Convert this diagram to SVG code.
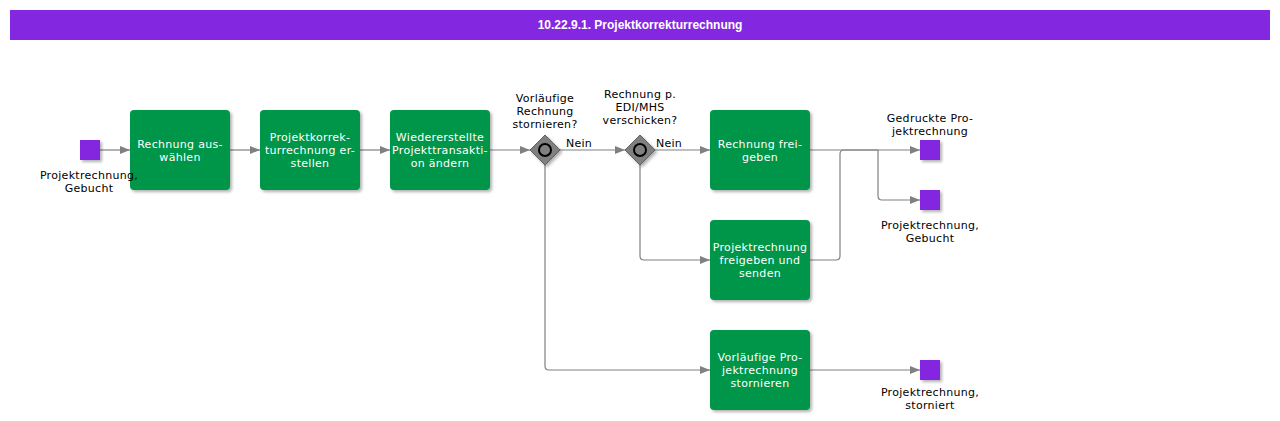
<svg xmlns="http://www.w3.org/2000/svg" width="1280" height="421" viewBox="0 0 1280 421">
<style>
.t{font-family:"DejaVu Sans",Verdana,sans-serif;font-size:11px;letter-spacing:0.3px;text-anchor:middle;fill:#000}
.w{fill:#fff}
.task{fill:#00964a}
.ev{fill:#8427e0}
.c{fill:none;stroke:#808080;stroke-width:1.2}
</style>
<defs>
<filter id="sh" x="-20%" y="-20%" width="140%" height="140%">
<feDropShadow dx="2" dy="2" stdDeviation="1.5" flood-color="#000" flood-opacity="0.3"/>
</filter>
<marker id="a" viewBox="0 0 10 10" refX="10" refY="5" markerWidth="10" markerHeight="10" markerUnits="userSpaceOnUse" orient="auto">
<path d="M0,1 L10,5 L0,9 Z" fill="#808080"/>
</marker>
</defs>
<rect width="1280" height="421" fill="#fff"/>
<g id="title">
<rect x="10" y="10" width="1260" height="30" fill="#8427e0"/>
<text x="640" y="29" font-family="'Liberation Sans',Arial,sans-serif" font-size="12" font-weight="bold" fill="#fff" text-anchor="middle">10.22.9.1. Projektkorrekturrechnung</text>
</g>
<g id="connectors">
<path class="c" d="M100,150 H130" marker-end="url(#a)"/>
<path class="c" d="M230,150 H260" marker-end="url(#a)"/>
<path class="c" d="M360,150 H390" marker-end="url(#a)"/>
<path class="c" d="M490,150 H530" marker-end="url(#a)"/>
<path class="c" d="M560,150 H625" marker-end="url(#a)"/>
<path class="c" d="M655,150 H710" marker-end="url(#a)"/>
<path class="c" d="M545,165 V366 Q545,370 549,370 H710" marker-end="url(#a)"/>
<path class="c" d="M640,165 V256 Q640,260 644,260 H710" marker-end="url(#a)"/>
<path class="c" d="M810,150 H920" marker-end="url(#a)"/>
<path class="c" d="M878,150 V196 Q878,200 882,200 H920" marker-end="url(#a)"/>
<path class="c" d="M810,260 H836 Q840,260 840,256 V154 Q840,150 844,150 H878"/>
<path class="c" d="M810,370 H920" marker-end="url(#a)"/>
<text class="t" x="579" y="147">Nein</text>
<text class="t" x="669" y="147">Nein</text>
</g>
<g id="task1">
<rect class="task" x="130" y="110" width="100" height="80" rx="4" filter="url(#sh)"/>
<text class="t w" x="180" y="148">Rechnung aus-</text>
<text class="t w" x="180" y="161">wählen</text>
</g>
<g id="start">
<rect class="ev" x="80" y="140" width="20" height="20" filter="url(#sh)"/>
<text class="t" x="89" y="179">Projektrechnung,</text>
<text class="t" x="89" y="192">Gebucht</text>
</g>
<g id="task2">
<rect class="task" x="260" y="110" width="100" height="80" rx="4" filter="url(#sh)"/>
<text class="t w" x="310" y="141">Projektkorrek-</text>
<text class="t w" x="310" y="154">turrechnung er-</text>
<text class="t w" x="310" y="167">stellen</text>
</g>
<g id="task3">
<rect class="task" x="390" y="110" width="100" height="80" rx="4" filter="url(#sh)"/>
<text class="t w" x="440" y="141">Wiedererstellte</text>
<text class="t w" x="440" y="154">Projekttransakti-</text>
<text class="t w" x="440" y="167">on ändern</text>
</g>
<g id="gw1">
<path d="M545,135 L560,150 L545,165 L530,150 Z" fill="#808080" stroke="#606060" stroke-width="1" filter="url(#sh)"/>
<circle cx="545" cy="150" r="6" fill="none" stroke="#000" stroke-width="2"/>
<text class="t" x="545" y="102">Vorläufige</text>
<text class="t" x="545" y="115">Rechnung</text>
<text class="t" x="545" y="128">stornieren?</text>
</g>
<g id="gw2">
<path d="M640,135 L655,150 L640,165 L625,150 Z" fill="#808080" stroke="#606060" stroke-width="1" filter="url(#sh)"/>
<circle cx="640" cy="150" r="6" fill="none" stroke="#000" stroke-width="2"/>
<text class="t" x="640" y="98">Rechnung p.</text>
<text class="t" x="640" y="111">EDI/MHS</text>
<text class="t" x="640" y="124">verschicken?</text>
</g>
<g id="task4">
<rect class="task" x="710" y="110" width="100" height="80" rx="4" filter="url(#sh)"/>
<text class="t w" x="760" y="148">Rechnung frei-</text>
<text class="t w" x="760" y="161">geben</text>
</g>
<g id="task5">
<rect class="task" x="710" y="220" width="100" height="80" rx="4" filter="url(#sh)"/>
<text class="t w" x="760" y="251">Projektrechnung</text>
<text class="t w" x="760" y="264">freigeben und</text>
<text class="t w" x="760" y="277">senden</text>
</g>
<g id="task6">
<rect class="task" x="710" y="330" width="100" height="80" rx="4" filter="url(#sh)"/>
<text class="t w" x="760" y="361">Vorläufige Pro-</text>
<text class="t w" x="760" y="374">jektrechnung</text>
<text class="t w" x="760" y="387">stornieren</text>
</g>
<g id="end1">
<rect class="ev" x="920" y="140" width="20" height="20" filter="url(#sh)"/>
<text class="t" x="930" y="122">Gedruckte Pro-</text>
<text class="t" x="930" y="135">jektrechnung</text>
</g>
<g id="end2">
<rect class="ev" x="920" y="190" width="20" height="20" filter="url(#sh)"/>
<text class="t" x="930" y="229">Projektrechnung,</text>
<text class="t" x="930" y="242">Gebucht</text>
</g>
<g id="end3">
<rect class="ev" x="920" y="360" width="20" height="20" filter="url(#sh)"/>
<text class="t" x="930" y="396">Projektrechnung,</text>
<text class="t" x="930" y="409">storniert</text>
</g>
</svg>
